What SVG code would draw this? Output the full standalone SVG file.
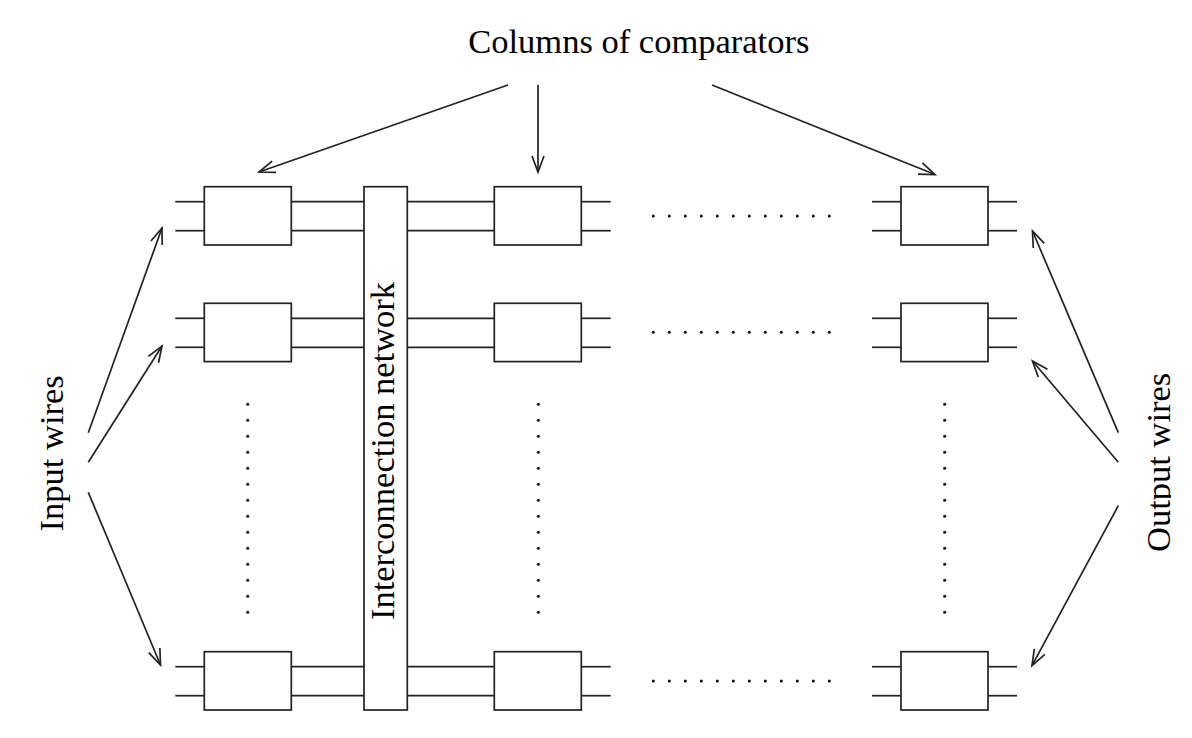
<svg xmlns="http://www.w3.org/2000/svg" width="1192" height="738" viewBox="0 0 1192 738">
<style>
.ln{stroke:#222;stroke-width:1.7;fill:none}
.bx{stroke:#222;stroke-width:1.7;fill:#fff}
.t{font-family:"Liberation Serif","Times New Roman",serif;font-size:34.5px;fill:#000}
.dot{fill:#111}
</style>
<defs>
<marker id="ah" markerUnits="userSpaceOnUse" markerWidth="40" markerHeight="40" refX="0" refY="0" viewBox="-20 -20 40 40" orient="auto" overflow="visible">
<path d="M-16,-6 L0,0 L-16,6" fill="none" stroke="#222" stroke-width="1.7"/>
</marker>
<clipPath id="clipR" clipPathUnits="userSpaceOnUse"><rect x="1100" y="300" width="71" height="300"/></clipPath>
<rect id="box" class="bx" x="0" y="0" width="87" height="58.3"/>
<g id="w2">
<line class="ln" x1="0" y1="15" x2="29" y2="15"/>
<line class="ln" x1="0" y1="44" x2="29" y2="44"/>
</g>
<g id="w3">
<line class="ln" x1="0" y1="15" x2="87" y2="15"/>
<line class="ln" x1="0" y1="44" x2="87" y2="44"/>
</g>
<g id="hdots">
<circle class="dot" cx="0" cy="0" r="1.5"/><circle class="dot" cx="16" cy="0" r="1.5"/><circle class="dot" cx="32" cy="0" r="1.5"/><circle class="dot" cx="48" cy="0" r="1.5"/><circle class="dot" cx="64" cy="0" r="1.5"/><circle class="dot" cx="80" cy="0" r="1.5"/><circle class="dot" cx="96" cy="0" r="1.5"/><circle class="dot" cx="112" cy="0" r="1.5"/><circle class="dot" cx="128" cy="0" r="1.5"/><circle class="dot" cx="144" cy="0" r="1.5"/><circle class="dot" cx="160" cy="0" r="1.5"/><circle class="dot" cx="176" cy="0" r="1.5"/>
</g>
<g id="vdots">
<circle class="dot" cx="0" cy="0" r="1.5"/><circle class="dot" cx="0" cy="16" r="1.5"/><circle class="dot" cx="0" cy="32" r="1.5"/><circle class="dot" cx="0" cy="48" r="1.5"/><circle class="dot" cx="0" cy="64" r="1.5"/><circle class="dot" cx="0" cy="80" r="1.5"/><circle class="dot" cx="0" cy="96" r="1.5"/><circle class="dot" cx="0" cy="112" r="1.5"/><circle class="dot" cx="0" cy="128" r="1.5"/><circle class="dot" cx="0" cy="144" r="1.5"/><circle class="dot" cx="0" cy="160" r="1.5"/><circle class="dot" cx="0" cy="176" r="1.5"/><circle class="dot" cx="0" cy="192" r="1.5"/><circle class="dot" cx="0" cy="208" r="1.5"/>
</g>
</defs>
<rect width="1192" height="738" fill="#fff"/>

<g id="wires">
<use href="#w2" x="175.3" y="186.7"/><use href="#w2" x="175.3" y="303.3"/><use href="#w2" x="175.3" y="651.7"/>
<g id="links-left">
<line class="ln" x1="291" y1="201.7" x2="364" y2="201.7"/><line class="ln" x1="291" y1="230.7" x2="364" y2="230.7"/>
<line class="ln" x1="291" y1="318.3" x2="364" y2="318.3"/><line class="ln" x1="291" y1="347.3" x2="364" y2="347.3"/>
<line class="ln" x1="291" y1="666.7" x2="364" y2="666.7"/><line class="ln" x1="291" y1="695.7" x2="364" y2="695.7"/>
</g>
<use href="#w3" x="407.3" y="186.7"/><use href="#w3" x="407.3" y="303.3"/><use href="#w3" x="407.3" y="651.7"/>
<use href="#w2" x="581.7" y="186.7"/><use href="#w2" x="581.7" y="303.3"/><use href="#w2" x="581.7" y="651.7"/>
<use href="#w2" x="872" y="186.7"/><use href="#w2" x="872" y="303.3"/><use href="#w2" x="872" y="651.7"/>
<use href="#w2" x="988" y="186.7"/><use href="#w2" x="988" y="303.3"/><use href="#w2" x="988" y="651.7"/>
</g>

<g id="interconnect">
<rect class="bx" x="364" y="186.7" width="43.3" height="523.3"/>
<text class="t" text-anchor="middle" transform="translate(393.5,451) rotate(-90)">Interconnection network</text>
</g>

<g id="c1r1"><use href="#box" x="204.3" y="186.7"/></g>
<g id="c1r2"><use href="#box" x="204.3" y="303.3"/></g>
<g id="c1r3"><use href="#box" x="204.3" y="651.7"/></g>
<g id="c2r1"><use href="#box" x="494.3" y="186.7"/></g>
<g id="c2r2"><use href="#box" x="494.3" y="303.3"/></g>
<g id="c2r3"><use href="#box" x="494.3" y="651.7"/></g>
<g id="c3r1"><use href="#box" x="901" y="186.7"/></g>
<g id="c3r2"><use href="#box" x="901" y="303.3"/></g>
<g id="c3r3"><use href="#box" x="901" y="651.7"/></g>

<g id="ellipses">
<use href="#hdots" x="653.3" y="216"/>
<use href="#hdots" x="653.3" y="332.3"/>
<use href="#hdots" x="653.3" y="681"/>
<use href="#vdots" x="247.7" y="404.3"/>
<use href="#vdots" x="538.3" y="404.3"/>
<use href="#vdots" x="944.7" y="404.3"/>
</g>

<g id="title">
<text class="t" x="638.8" y="52.5" text-anchor="middle">Columns of comparators</text>
</g>
<g id="input-label">
<text class="t" text-anchor="middle" transform="translate(62.5,453.3) rotate(-90)">Input wires</text>
</g>
<g id="output-label" clip-path="url(#clipR)">
<text class="t" text-anchor="middle" transform="translate(1170,462.3) rotate(-90)">Output wires</text>
</g>

<g id="connectors">
<line class="ln" x1="508" y1="85" x2="259" y2="172" marker-end="url(#ah)"/>
<line class="ln" x1="538" y1="85" x2="538" y2="172" marker-end="url(#ah)"/>
<line class="ln" x1="712" y1="85" x2="935" y2="174.5" marker-end="url(#ah)"/>
<line class="ln" x1="88.3" y1="432.7" x2="162" y2="228" marker-end="url(#ah)"/>
<line class="ln" x1="88.3" y1="462.3" x2="162" y2="346" marker-end="url(#ah)"/>
<line class="ln" x1="88.3" y1="492.3" x2="160.5" y2="665" marker-end="url(#ah)"/>
<line class="ln" x1="1118.3" y1="432.7" x2="1032.5" y2="231" marker-end="url(#ah)"/>
<line class="ln" x1="1118.3" y1="462.3" x2="1032.5" y2="361" marker-end="url(#ah)"/>
<line class="ln" x1="1118.3" y1="505.7" x2="1032" y2="665.7" marker-end="url(#ah)"/>
</g>
</svg>
